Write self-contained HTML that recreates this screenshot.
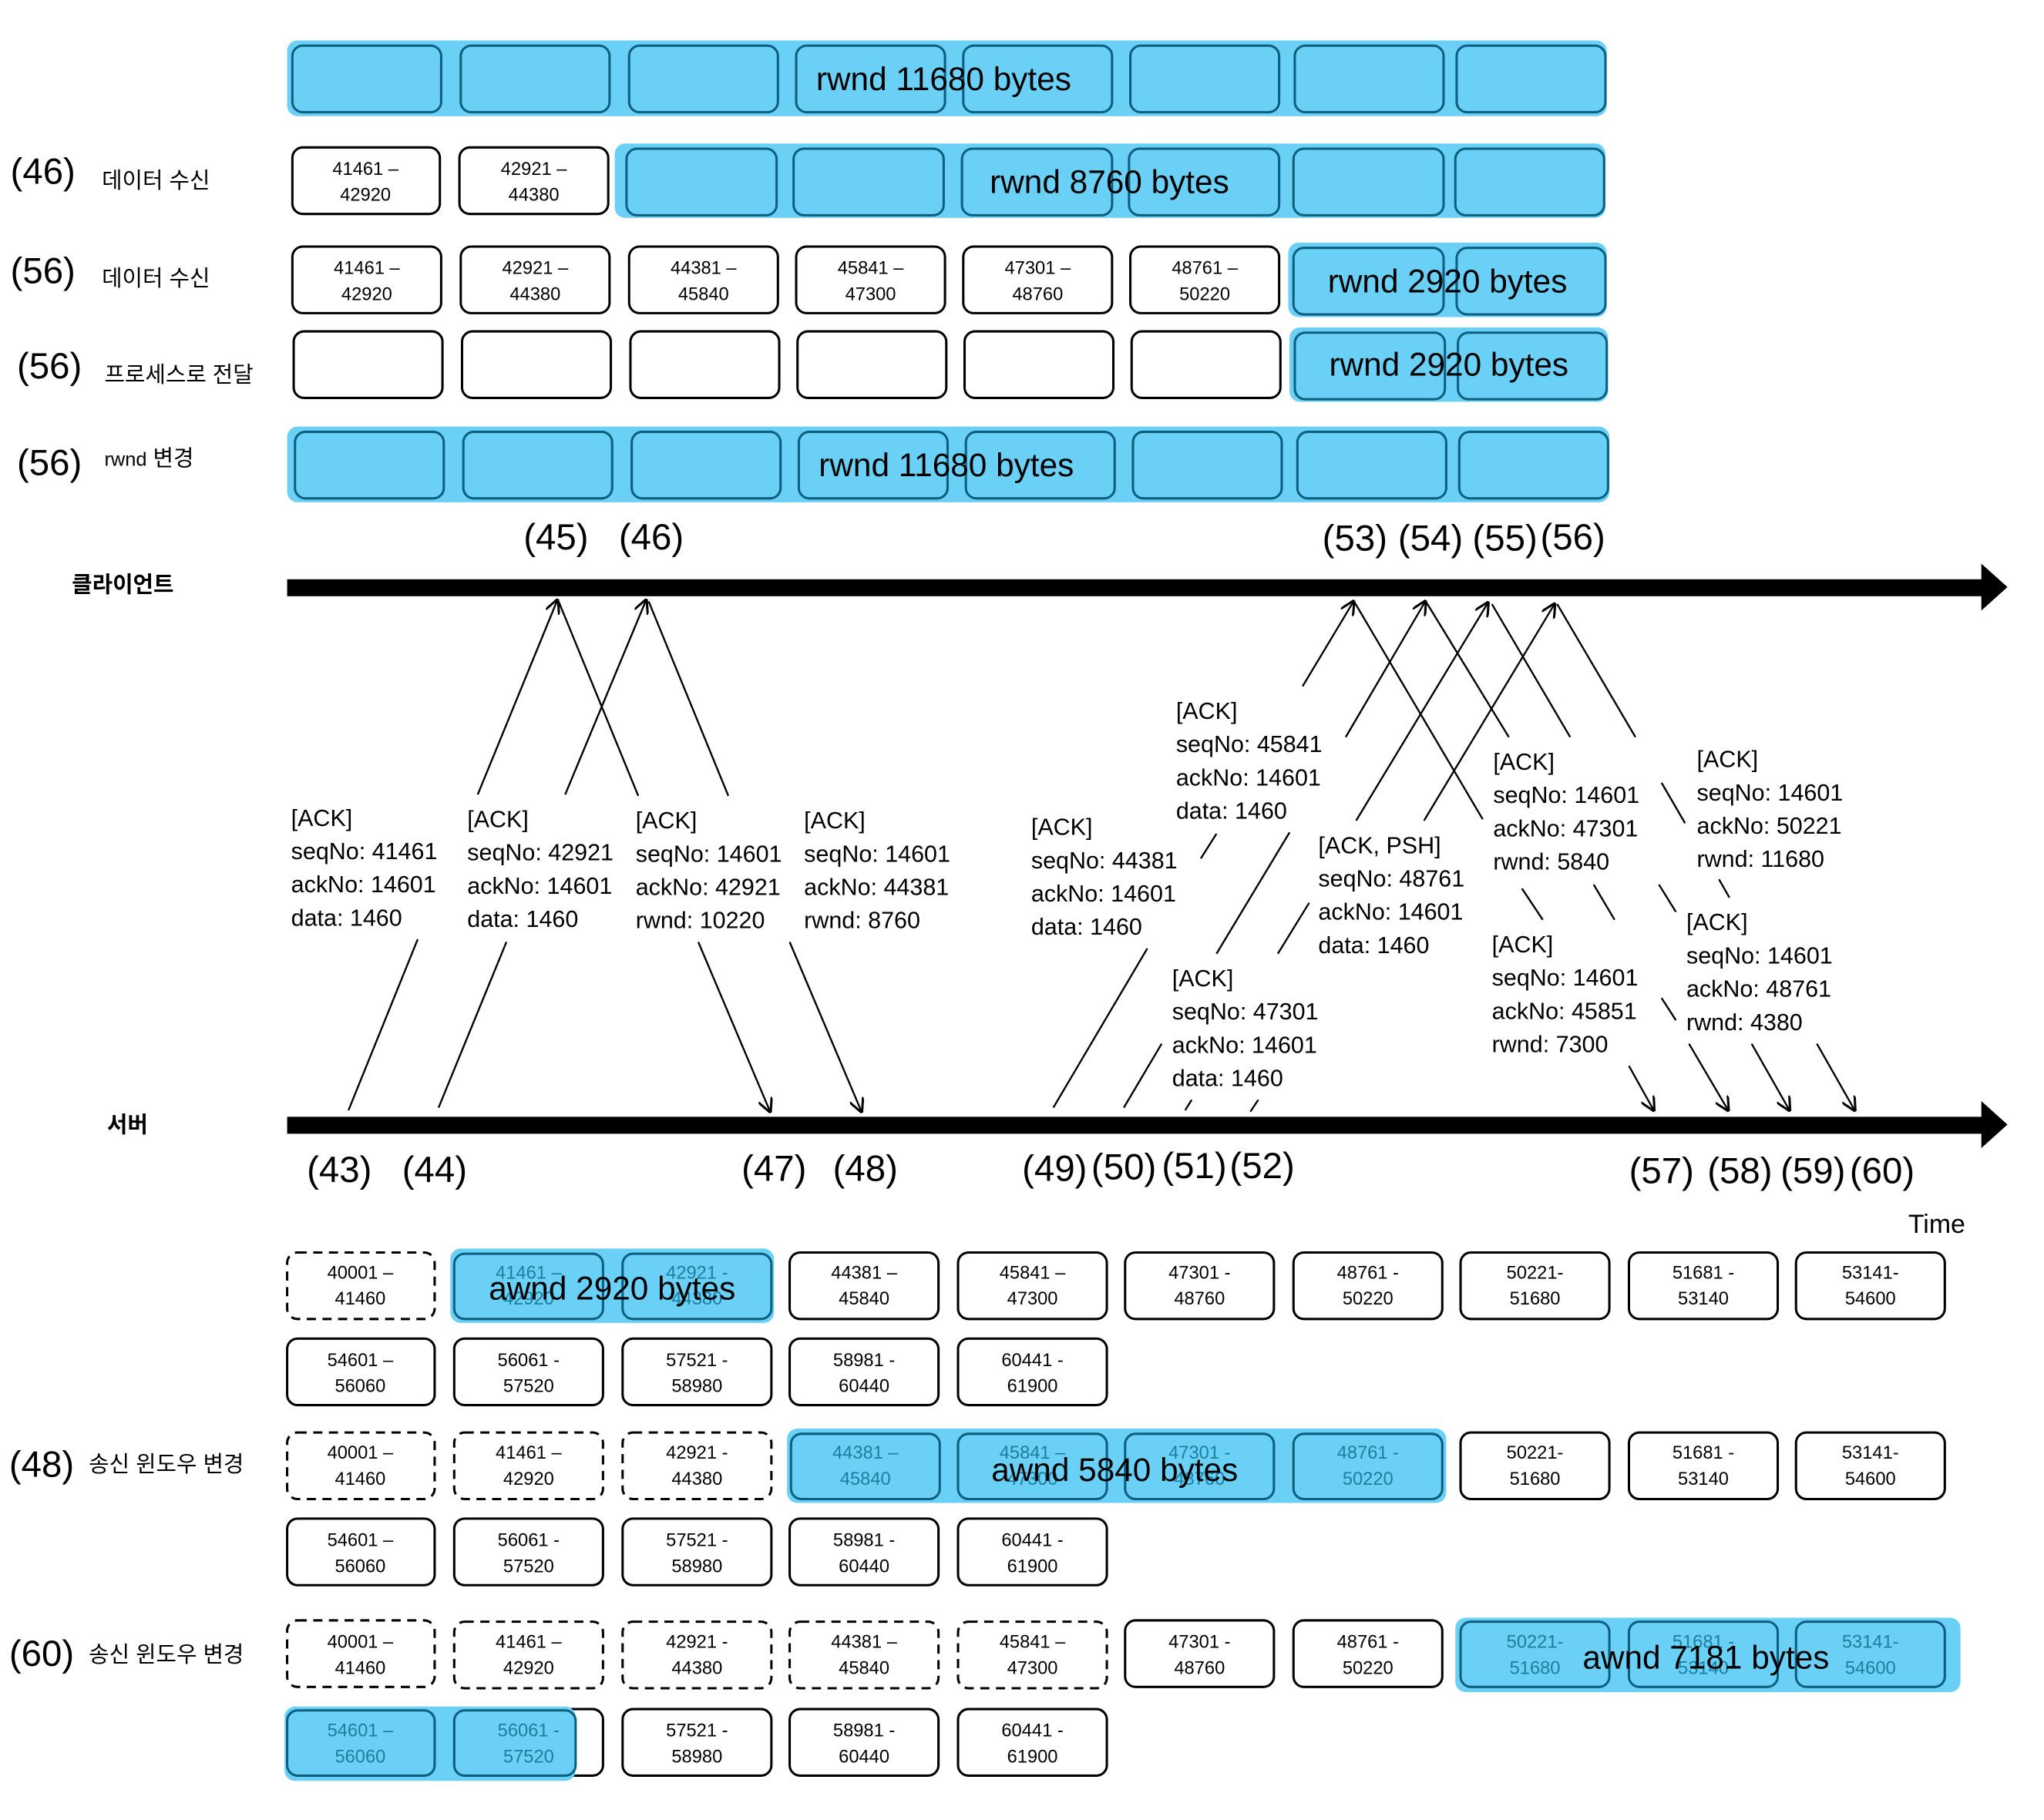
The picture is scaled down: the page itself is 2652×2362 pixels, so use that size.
<!DOCTYPE html>
<html><head><meta charset="utf-8"><style>
html,body{margin:0;padding:0;background:#fff;}
svg{display:block;}
text{font-family:"Liberation Sans","Noto Sans CJK KR",sans-serif;fill:#000;}
.w{fill:#fff;stroke:#000;stroke-width:1.8;}
.d{fill:#fff;stroke:#000;stroke-width:1.8;stroke-dasharray:7 5;}
.b{fill:#6bd0f5;stroke:#0d5f80;stroke-width:1.8;}
.band{fill:#6bd0f5;}
.bt{font-size:14px;text-anchor:middle;}
.bb{font-size:14px;text-anchor:middle;fill:#1a7fa0;}
.big{font-size:25px;text-anchor:middle;}
.num{font-size:28px;}
.kr{font-size:17px;}
.lab{font-size:18px;}
.ln{stroke:#000;stroke-width:1.4;fill:none;}
.ar{stroke:#000;stroke-width:1.4;fill:none;marker-end:url(#m);}
</style></head><body>
<svg width="2652" height="2362" viewBox="0 0 1566 1395" preserveAspectRatio="none" xmlns="http://www.w3.org/2000/svg">
<defs><marker id="m" viewBox="0 0 10 10" refX="9" refY="5" markerWidth="8" markerHeight="8" orient="auto-start-reverse"><path d="M0,0 L10,5 L0,10" fill="none" stroke="#000" stroke-width="1.6"/></marker></defs>

<!-- Row 0 -->
<rect class="band" x="220" y="31" width="1011" height="58" rx="8"/>
<rect class="b" x="224" y="35" width="114" height="51" rx="8"/>
<rect class="b" x="353" y="35" width="114" height="51" rx="8"/>
<rect class="b" x="482" y="35" width="114" height="51" rx="8"/>
<rect class="b" x="610" y="35" width="114" height="51" rx="8"/>
<rect class="b" x="738" y="35" width="114" height="51" rx="8"/>
<rect class="b" x="866" y="35" width="114" height="51" rx="8"/>
<rect class="b" x="992" y="35" width="114" height="51" rx="8"/>
<rect class="b" x="1116" y="35" width="114" height="51" rx="8"/>
<text class="big" x="723" y="69">rwnd 11680 bytes</text>

<!-- Row 1 (46) -->
<text class="num" x="8" y="141">(46)</text><text class="kr" x="78" y="144">데이터 수신</text>
<rect class="w" x="224" y="113" width="113" height="51" rx="8"/>
<text class="bt" x="280" y="134">41461 –</text><text class="bt" x="280" y="154">42920</text>
<rect class="w" x="352" y="113" width="114" height="51" rx="8"/>
<text class="bt" x="409" y="134">42921 –</text><text class="bt" x="409" y="154">44380</text>
<rect class="band" x="471" y="110" width="759" height="57" rx="8"/>
<rect class="b" x="480" y="114" width="115" height="51" rx="8"/>
<rect class="b" x="608" y="114" width="115" height="51" rx="8"/>
<rect class="b" x="737" y="114" width="115" height="51" rx="8"/>
<rect class="b" x="865" y="114" width="115" height="51" rx="8"/>
<rect class="b" x="991" y="114" width="115" height="51" rx="8"/>
<rect class="b" x="1115" y="114" width="114" height="51" rx="8"/>
<text class="big" x="850" y="148">rwnd 8760 bytes</text>

<!-- Row 2 (56) -->
<text class="num" x="8" y="217">(56)</text><text class="kr" x="78" y="219">데이터 수신</text>
<rect class="w" x="224" y="189" width="114" height="51" rx="8"/>
<text class="bt" x="281" y="210">41461 –</text><text class="bt" x="281" y="230">42920</text>
<rect class="w" x="353" y="189" width="114" height="51" rx="8"/>
<text class="bt" x="410" y="210">42921 –</text><text class="bt" x="410" y="230">44380</text>
<rect class="w" x="482" y="189" width="114" height="51" rx="8"/>
<text class="bt" x="539" y="210">44381 –</text><text class="bt" x="539" y="230">45840</text>
<rect class="w" x="610" y="189" width="114" height="51" rx="8"/>
<text class="bt" x="667" y="210">45841 –</text><text class="bt" x="667" y="230">47300</text>
<rect class="w" x="738" y="189" width="114" height="51" rx="8"/>
<text class="bt" x="795" y="210">47301 –</text><text class="bt" x="795" y="230">48760</text>
<rect class="w" x="866" y="189" width="114" height="51" rx="8"/>
<text class="bt" x="923" y="210">48761 –</text><text class="bt" x="923" y="230">50220</text>
<rect class="band" x="987" y="186" width="244" height="57" rx="8"/>
<rect class="b" x="991" y="190" width="115" height="51" rx="8"/>
<rect class="b" x="1116" y="190" width="114" height="51" rx="8"/>
<text class="big" x="1109" y="224">rwnd 2920 bytes</text>

<!-- Row 3 -->
<text class="num" x="13" y="290">(56)</text><text class="kr" x="80" y="293">프로세스로 전달</text>
<rect class="w" x="225" y="254" width="114" height="51" rx="8"/>
<rect class="w" x="354" y="254" width="114" height="51" rx="8"/>
<rect class="w" x="483" y="254" width="114" height="51" rx="8"/>
<rect class="w" x="611" y="254" width="114" height="51" rx="8"/>
<rect class="w" x="739" y="254" width="114" height="51" rx="8"/>
<rect class="w" x="867" y="254" width="114" height="51" rx="8"/>
<rect class="band" x="988" y="251" width="244" height="57" rx="8"/>
<rect class="b" x="992" y="255" width="115" height="51" rx="8"/>
<rect class="b" x="1117" y="255" width="114" height="51" rx="8"/>
<text class="big" x="1110" y="288">rwnd 2920 bytes</text>

<!-- Row 4 -->
<text class="num" x="13" y="364">(56)</text><text class="kr" x="80" y="357"><tspan font-size="15">rwnd</tspan> 변경</text>
<rect class="band" x="220" y="327" width="1013" height="58" rx="8"/>
<rect class="b" x="226" y="331" width="114" height="51" rx="8"/>
<rect class="b" x="355" y="331" width="114" height="51" rx="8"/>
<rect class="b" x="484" y="331" width="114" height="51" rx="8"/>
<rect class="b" x="612" y="331" width="114" height="51" rx="8"/>
<rect class="b" x="740" y="331" width="114" height="51" rx="8"/>
<rect class="b" x="868" y="331" width="114" height="51" rx="8"/>
<rect class="b" x="994" y="331" width="114" height="51" rx="8"/>
<rect class="b" x="1118" y="331" width="114" height="51" rx="8"/>
<text class="big" x="725" y="365">rwnd 11680 bytes</text>

<!-- client timeline -->
<g font-size="28" text-anchor="middle">
<text x="426" y="421">(45)</text><text x="499" y="421">(46)</text>
<text x="1038" y="422">(53)</text><text x="1096" y="422">(54)</text><text x="1153" y="422">(55)</text><text x="1205" y="421">(56)</text>
</g>
<text x="55" y="454" font-size="17" font-weight="bold">클라이언트</text>
<rect x="220" y="444" width="1300" height="13" fill="#000"/>
<polygon points="1518,432 1538,450 1518,468" fill="#000"/>

<!-- server timeline -->
<text x="82" y="868" font-size="17" font-weight="bold">서버</text>
<rect x="220" y="856" width="1300" height="13" fill="#000"/>
<polygon points="1518,844 1538,862 1518,880" fill="#000"/>
<g font-size="28" text-anchor="middle">
<text x="260" y="906">(43)</text><text x="333" y="906">(44)</text>
<text x="593" y="905">(47)</text><text x="663" y="905">(48)</text>
<text x="808" y="905">(49)</text><text x="861" y="904">(50)</text><text x="915" y="903">(51)</text><text x="967" y="903">(52)</text>
<text x="1273" y="907">(57)</text><text x="1333" y="907">(58)</text><text x="1389" y="907">(59)</text><text x="1442" y="907">(60)</text>
</g>
<text x="1462" y="945" font-size="20">Time</text>

<!-- left connectors -->
<line class="ln" x1="267" y1="851" x2="320" y2="720"/>
<line class="ar" x1="366" y1="609" x2="427" y2="460"/>
<line class="ln" x1="336" y1="849" x2="388" y2="722"/>
<line class="ar" x1="433" y1="609" x2="495" y2="460"/>
<line class="ln" x1="428" y1="461" x2="489" y2="610"/>
<line class="ar" x1="535" y1="722" x2="590" y2="852"/>
<line class="ln" x1="497" y1="461" x2="558" y2="610"/>
<line class="ar" x1="605" y1="722" x2="660" y2="852"/>

<!-- right connectors -->
<line class="ln" x1="807" y1="849" x2="879" y2="727"/>
<line class="ln" x1="920" y1="658" x2="932" y2="639"/>
<line class="ar" x1="998" y1="526" x2="1037" y2="461"/>
<line class="ln" x1="861" y1="849" x2="890" y2="800"/>
<line class="ln" x1="932" y1="731" x2="988" y2="638"/>
<line class="ar" x1="1031" y1="565" x2="1092" y2="461"/>
<line class="ln" x1="908" y1="851" x2="913" y2="843"/>
<line class="ln" x1="979" y1="731" x2="1003" y2="692"/>
<line class="ar" x1="1039" y1="629" x2="1140" y2="462"/>
<line class="ln" x1="958" y1="852" x2="964" y2="843"/>
<line class="ar" x1="1091" y1="629" x2="1191" y2="463"/>

<line class="ln" x1="1038" y1="462" x2="1136" y2="628"/>
<line class="ln" x1="1166" y1="681" x2="1182" y2="705"/>
<line class="ar" x1="1248" y1="817" x2="1267" y2="851"/>
<line class="ln" x1="1093" y1="462" x2="1156" y2="565"/>
<line class="ln" x1="1221" y1="678" x2="1237" y2="705"/>
<line class="ln" x1="1273" y1="765" x2="1284" y2="782"/>
<line class="ar" x1="1294" y1="800" x2="1324" y2="851"/>
<line class="ln" x1="1143" y1="463" x2="1203" y2="565"/>
<line class="ln" x1="1271" y1="678" x2="1284" y2="699"/>
<line class="ar" x1="1342" y1="800" x2="1371" y2="851"/>
<line class="ln" x1="1193" y1="463" x2="1253" y2="565"/>
<line class="ln" x1="1273" y1="600" x2="1291" y2="631"/>
<line class="ln" x1="1317" y1="674" x2="1325" y2="688"/>
<line class="ar" x1="1392" y1="800" x2="1421" y2="851"/>

<!-- packet labels -->
<g class="lab" font-size="18">
<text x="223" y="633">[ACK]<tspan x="223" dy="25.5">seqNo: 41461</tspan><tspan x="223" dy="25.5">ackNo: 14601</tspan><tspan x="223" dy="25.5">data: 1460</tspan></text>
<text x="358" y="634">[ACK]<tspan x="358" dy="25.5">seqNo: 42921</tspan><tspan x="358" dy="25.5">ackNo: 14601</tspan><tspan x="358" dy="25.5">data: 1460</tspan></text>
<text x="487" y="635">[ACK]<tspan x="487" dy="25.5">seqNo: 14601</tspan><tspan x="487" dy="25.5">ackNo: 42921</tspan><tspan x="487" dy="25.5">rwnd: 10220</tspan></text>
<text x="616" y="635">[ACK]<tspan x="616" dy="25.5">seqNo: 14601</tspan><tspan x="616" dy="25.5">ackNo: 44381</tspan><tspan x="616" dy="25.5">rwnd: 8760</tspan></text>
<text x="790" y="640">[ACK]<tspan x="790" dy="25.5">seqNo: 44381</tspan><tspan x="790" dy="25.5">ackNo: 14601</tspan><tspan x="790" dy="25.5">data: 1460</tspan></text>
<text x="901" y="551">[ACK]<tspan x="901" dy="25.5">seqNo: 45841</tspan><tspan x="901" dy="25.5">ackNo: 14601</tspan><tspan x="901" dy="25.5">data: 1460</tspan></text>
<text x="1010" y="654">[ACK, PSH]<tspan x="1010" dy="25.5">seqNo: 48761</tspan><tspan x="1010" dy="25.5">ackNo: 14601</tspan><tspan x="1010" dy="25.5">data: 1460</tspan></text>
<text x="898" y="756">[ACK]<tspan x="898" dy="25.5">seqNo: 47301</tspan><tspan x="898" dy="25.5">ackNo: 14601</tspan><tspan x="898" dy="25.5">data: 1460</tspan></text>
<text x="1144" y="590">[ACK]<tspan x="1144" dy="25.5">seqNo: 14601</tspan><tspan x="1144" dy="25.5">ackNo: 47301</tspan><tspan x="1144" dy="25.5">rwnd: 5840</tspan></text>
<text x="1143" y="730">[ACK]<tspan x="1143" dy="25.5">seqNo: 14601</tspan><tspan x="1143" dy="25.5">ackNo: 45851</tspan><tspan x="1143" dy="25.5">rwnd: 7300</tspan></text>
<text x="1300" y="588">[ACK]<tspan x="1300" dy="25.5">seqNo: 14601</tspan><tspan x="1300" dy="25.5">ackNo: 50221</tspan><tspan x="1300" dy="25.5">rwnd: 11680</tspan></text>
<text x="1292" y="713">[ACK]<tspan x="1292" dy="25.5">seqNo: 14601</tspan><tspan x="1292" dy="25.5">ackNo: 48761</tspan><tspan x="1292" dy="25.5">rwnd: 4380</tspan></text>
</g>

<!-- Bottom Row A -->
<rect class="d" x="220" y="960" width="113" height="51" rx="8"/>
<text class="bt" x="276" y="980">40001 –</text><text class="bt" x="276" y="1000">41460</text>
<rect class="band" x="345" y="957" width="248" height="57" rx="8"/>
<rect class="b" x="348" y="961" width="114" height="50" rx="8"/>
<text class="bb" x="405" y="980">41461 –</text><text class="bb" x="405" y="1000">42920</text>
<rect class="b" x="477" y="961" width="114" height="50" rx="8"/>
<text class="bb" x="534" y="980">42921 -</text><text class="bb" x="534" y="1000">44380</text>
<text class="big" x="469" y="996">awnd 2920 bytes</text>
<rect class="w" x="605" y="960" width="114" height="51" rx="8"/>
<text class="bt" x="662" y="980">44381 –</text><text class="bt" x="662" y="1000">45840</text>
<rect class="w" x="734" y="960" width="114" height="51" rx="8"/>
<text class="bt" x="791" y="980">45841 –</text><text class="bt" x="791" y="1000">47300</text>
<rect class="w" x="862" y="960" width="114" height="51" rx="8"/>
<text class="bt" x="919" y="980">47301 -</text><text class="bt" x="919" y="1000">48760</text>
<rect class="w" x="991" y="960" width="114" height="51" rx="8"/>
<text class="bt" x="1048" y="980">48761 -</text><text class="bt" x="1048" y="1000">50220</text>
<rect class="w" x="1119" y="960" width="114" height="51" rx="8"/>
<text class="bt" x="1176" y="980">50221-</text><text class="bt" x="1176" y="1000">51680</text>
<rect class="w" x="1248" y="960" width="114" height="51" rx="8"/>
<text class="bt" x="1305" y="980">51681 -</text><text class="bt" x="1305" y="1000">53140</text>
<rect class="w" x="1376" y="960" width="114" height="51" rx="8"/>
<text class="bt" x="1433" y="980">53141-</text><text class="bt" x="1433" y="1000">54600</text>

<!-- Row B -->
<rect class="w" x="220" y="1026" width="113" height="51" rx="8"/>
<text class="bt" x="276" y="1047">54601 –</text><text class="bt" x="276" y="1067">56060</text>
<rect class="w" x="348" y="1026" width="114" height="51" rx="8"/>
<text class="bt" x="405" y="1047">56061 -</text><text class="bt" x="405" y="1067">57520</text>
<rect class="w" x="477" y="1026" width="114" height="51" rx="8"/>
<text class="bt" x="534" y="1047">57521 -</text><text class="bt" x="534" y="1067">58980</text>
<rect class="w" x="605" y="1026" width="114" height="51" rx="8"/>
<text class="bt" x="662" y="1047">58981 -</text><text class="bt" x="662" y="1067">60440</text>
<rect class="w" x="734" y="1026" width="114" height="51" rx="8"/>
<text class="bt" x="791" y="1047">60441 -</text><text class="bt" x="791" y="1067">61900</text>

<!-- Row C (48) -->
<text class="num" x="7" y="1132">(48)</text><text class="kr" x="68" y="1128">송신 윈도우 변경</text>
<rect class="d" x="220" y="1098" width="113" height="51" rx="8"/>
<text class="bt" x="276" y="1118">40001 –</text><text class="bt" x="276" y="1138">41460</text>
<rect class="d" x="348" y="1098" width="114" height="51" rx="8"/>
<text class="bt" x="405" y="1118">41461 –</text><text class="bt" x="405" y="1138">42920</text>
<rect class="d" x="477" y="1098" width="114" height="51" rx="8"/>
<text class="bt" x="534" y="1118">42921 -</text><text class="bt" x="534" y="1138">44380</text>
<rect class="band" x="603" y="1095" width="505" height="57" rx="8"/>
<rect class="b" x="606" y="1099" width="114" height="50" rx="8"/>
<text class="bb" x="663" y="1118">44381 –</text><text class="bb" x="663" y="1138">45840</text>
<rect class="b" x="734" y="1099" width="114" height="50" rx="8"/>
<text class="bb" x="791" y="1118">45841 –</text><text class="bb" x="791" y="1138">47300</text>
<rect class="b" x="862" y="1099" width="114" height="50" rx="8"/>
<text class="bb" x="919" y="1118">47301 -</text><text class="bb" x="919" y="1138">48760</text>
<rect class="b" x="991" y="1099" width="114" height="50" rx="8"/>
<text class="bb" x="1048" y="1118">48761 -</text><text class="bb" x="1048" y="1138">50220</text>
<text class="big" x="854" y="1135">awnd 5840 bytes</text>
<rect class="w" x="1119" y="1098" width="114" height="51" rx="8"/>
<text class="bt" x="1176" y="1118">50221-</text><text class="bt" x="1176" y="1138">51680</text>
<rect class="w" x="1248" y="1098" width="114" height="51" rx="8"/>
<text class="bt" x="1305" y="1118">51681 -</text><text class="bt" x="1305" y="1138">53140</text>
<rect class="w" x="1376" y="1098" width="114" height="51" rx="8"/>
<text class="bt" x="1433" y="1118">53141-</text><text class="bt" x="1433" y="1138">54600</text>

<!-- Row D -->
<rect class="w" x="220" y="1164" width="113" height="51" rx="8"/>
<text class="bt" x="276" y="1185">54601 –</text><text class="bt" x="276" y="1205">56060</text>
<rect class="w" x="348" y="1164" width="114" height="51" rx="8"/>
<text class="bt" x="405" y="1185">56061 -</text><text class="bt" x="405" y="1205">57520</text>
<rect class="w" x="477" y="1164" width="114" height="51" rx="8"/>
<text class="bt" x="534" y="1185">57521 -</text><text class="bt" x="534" y="1205">58980</text>
<rect class="w" x="605" y="1164" width="114" height="51" rx="8"/>
<text class="bt" x="662" y="1185">58981 -</text><text class="bt" x="662" y="1205">60440</text>
<rect class="w" x="734" y="1164" width="114" height="51" rx="8"/>
<text class="bt" x="791" y="1185">60441 -</text><text class="bt" x="791" y="1205">61900</text>

<!-- Row E (60) -->
<text class="num" x="7" y="1277">(60)</text><text class="kr" x="68" y="1274">송신 윈도우 변경</text>
<rect class="d" x="220" y="1242" width="113" height="51" rx="8"/>
<text class="bt" x="276" y="1263">40001 –</text><text class="bt" x="276" y="1283">41460</text>
<rect class="d" x="348" y="1243" width="114" height="51" rx="8"/>
<text class="bt" x="405" y="1263">41461 –</text><text class="bt" x="405" y="1283">42920</text>
<rect class="d" x="477" y="1243" width="114" height="51" rx="8"/>
<text class="bt" x="534" y="1263">42921 -</text><text class="bt" x="534" y="1283">44380</text>
<rect class="d" x="605" y="1243" width="114" height="51" rx="8"/>
<text class="bt" x="662" y="1263">44381 –</text><text class="bt" x="662" y="1283">45840</text>
<rect class="d" x="734" y="1243" width="114" height="51" rx="8"/>
<text class="bt" x="791" y="1263">45841 –</text><text class="bt" x="791" y="1283">47300</text>
<rect class="w" x="862" y="1242" width="114" height="51" rx="8"/>
<text class="bt" x="919" y="1263">47301 -</text><text class="bt" x="919" y="1283">48760</text>
<rect class="w" x="991" y="1242" width="114" height="51" rx="8"/>
<text class="bt" x="1048" y="1263">48761 -</text><text class="bt" x="1048" y="1283">50220</text>
<rect class="band" x="1115" y="1240" width="387" height="57" rx="8"/>
<rect class="b" x="1119" y="1243" width="114" height="50" rx="8"/>
<text class="bb" x="1176" y="1263">50221-</text><text class="bb" x="1176" y="1283">51680</text>
<rect class="b" x="1248" y="1243" width="114" height="50" rx="8"/>
<text class="bb" x="1305" y="1263">51681 -</text><text class="bb" x="1305" y="1283">53140</text>
<rect class="b" x="1376" y="1243" width="114" height="50" rx="8"/>
<text class="bb" x="1433" y="1263">53141-</text><text class="bb" x="1433" y="1283">54600</text>
<text class="big" x="1307" y="1279">awnd 7181 bytes</text>

<!-- Row F -->
<rect class="w" x="348" y="1310" width="114" height="51" rx="8"/>
<rect class="band" x="218" y="1308" width="223" height="57" rx="8"/>
<rect class="b" x="220" y="1311" width="113" height="50" rx="8"/>
<text class="bb" x="276" y="1331">54601 –</text><text class="bb" x="276" y="1351">56060</text>
<rect class="b" x="348" y="1311" width="93" height="50" rx="8"/>
<text class="bb" x="405" y="1331">56061 -</text><text class="bb" x="405" y="1351">57520</text>
<rect class="w" x="477" y="1310" width="114" height="51" rx="8"/>
<text class="bt" x="534" y="1331">57521 -</text><text class="bt" x="534" y="1351">58980</text>
<rect class="w" x="605" y="1310" width="114" height="51" rx="8"/>
<text class="bt" x="662" y="1331">58981 -</text><text class="bt" x="662" y="1351">60440</text>
<rect class="w" x="734" y="1310" width="114" height="51" rx="8"/>
<text class="bt" x="791" y="1331">60441 -</text><text class="bt" x="791" y="1351">61900</text>
</svg>
</body></html>
